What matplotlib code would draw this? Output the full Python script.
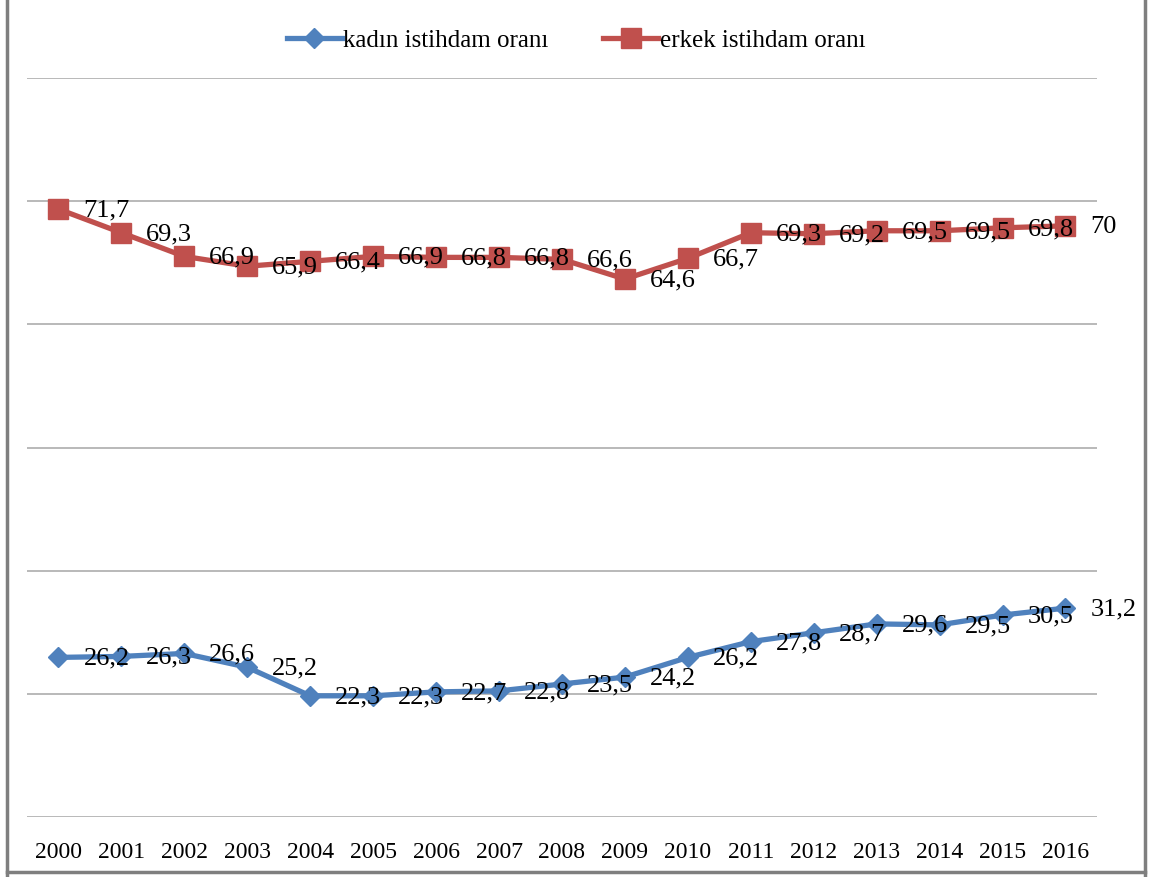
import numpy as np
import matplotlib.pyplot as plt
from matplotlib.lines import Line2D

years = [str(y) for y in range(2000, 2017)]

kadin = [26.2, 26.3, 26.6, 25.2, 22.3, 22.3, 22.7, 22.8, 23.5, 24.2,
         26.2, 27.8, 28.7, 29.6, 29.5, 30.5, 31.2]
erkek = [71.7, 69.3, 66.9, 65.9, 66.4, 66.9, 66.8, 66.8, 66.6, 64.6,
         66.7, 69.3, 69.2, 69.5, 69.5, 69.8, 70]

plt.rcParams['font.family'] = ['Liberation Serif', 'DejaVu Serif']

blue = '#4F81BD'
red = '#C0504D'

fig = plt.figure(figsize=(11.52, 8.77), dpi=100)
ax = fig.add_axes([0.0234, 0.0684, 0.9288, 0.8426])

x = np.arange(len(years))
ax.plot(x, kadin, color=blue, lw=3.8, marker='D', ms=10.5,
        mec=blue, mfc=blue, label='kadın istihdam oranı', zorder=3)
ax.plot(x, erkek, color=red, lw=3.8, marker='s', ms=14,
        mec=red, mfc=red, label='erkek istihdam oranı', zorder=3)

def fmt(v):
    s = ('%.1f' % v).replace('.', ',')
    return s[:-2] if s.endswith(',0') else s

for xi, v in zip(x, kadin):
    ax.annotate(fmt(v), (xi, v), xytext=(18, -1), textcoords='offset points',
                ha='left', va='center', fontsize=19, zorder=4)
for xi, v in zip(x, erkek):
    ax.annotate(fmt(v), (xi, v), xytext=(18, -1), textcoords='offset points',
                ha='left', va='center', fontsize=19, zorder=4)

ax.set_xlim(-0.5, 16.5)
ax.set_ylim(10, 85)
ax.set_yticks(np.arange(10, 86, 12.5))
ax.yaxis.grid(True, color='#A6A6A6', lw=1.1)
ax.set_axisbelow(True)
ax.tick_params(axis='y', left=False, labelleft=False)
ax.set_xticks(x)
ax.set_xticklabels(years, fontsize=17)
ax.tick_params(axis='x', length=0, pad=18)
for s in ax.spines.values():
    s.set_visible(False)

fig.legend(*ax.get_legend_handles_labels(), loc='center',
           bbox_to_anchor=(0.5, 0.954), ncol=2, frameon=False,
           fontsize=18, handlelength=2.2, handletextpad=0.05, columnspacing=2.2)

# outer frame: left, bottom, right
for xs, ys in [([0.006, 0.006], [0.0, 1.0]),
               ([0.006, 0.994], [0.006, 0.006]),
               ([0.994, 0.994], [0.0, 1.0])]:
    fig.add_artist(Line2D(xs, ys, transform=fig.transFigure,
                          color='#7F7F7F', lw=2.5))

fig.savefig('out.png', dpi=100)
